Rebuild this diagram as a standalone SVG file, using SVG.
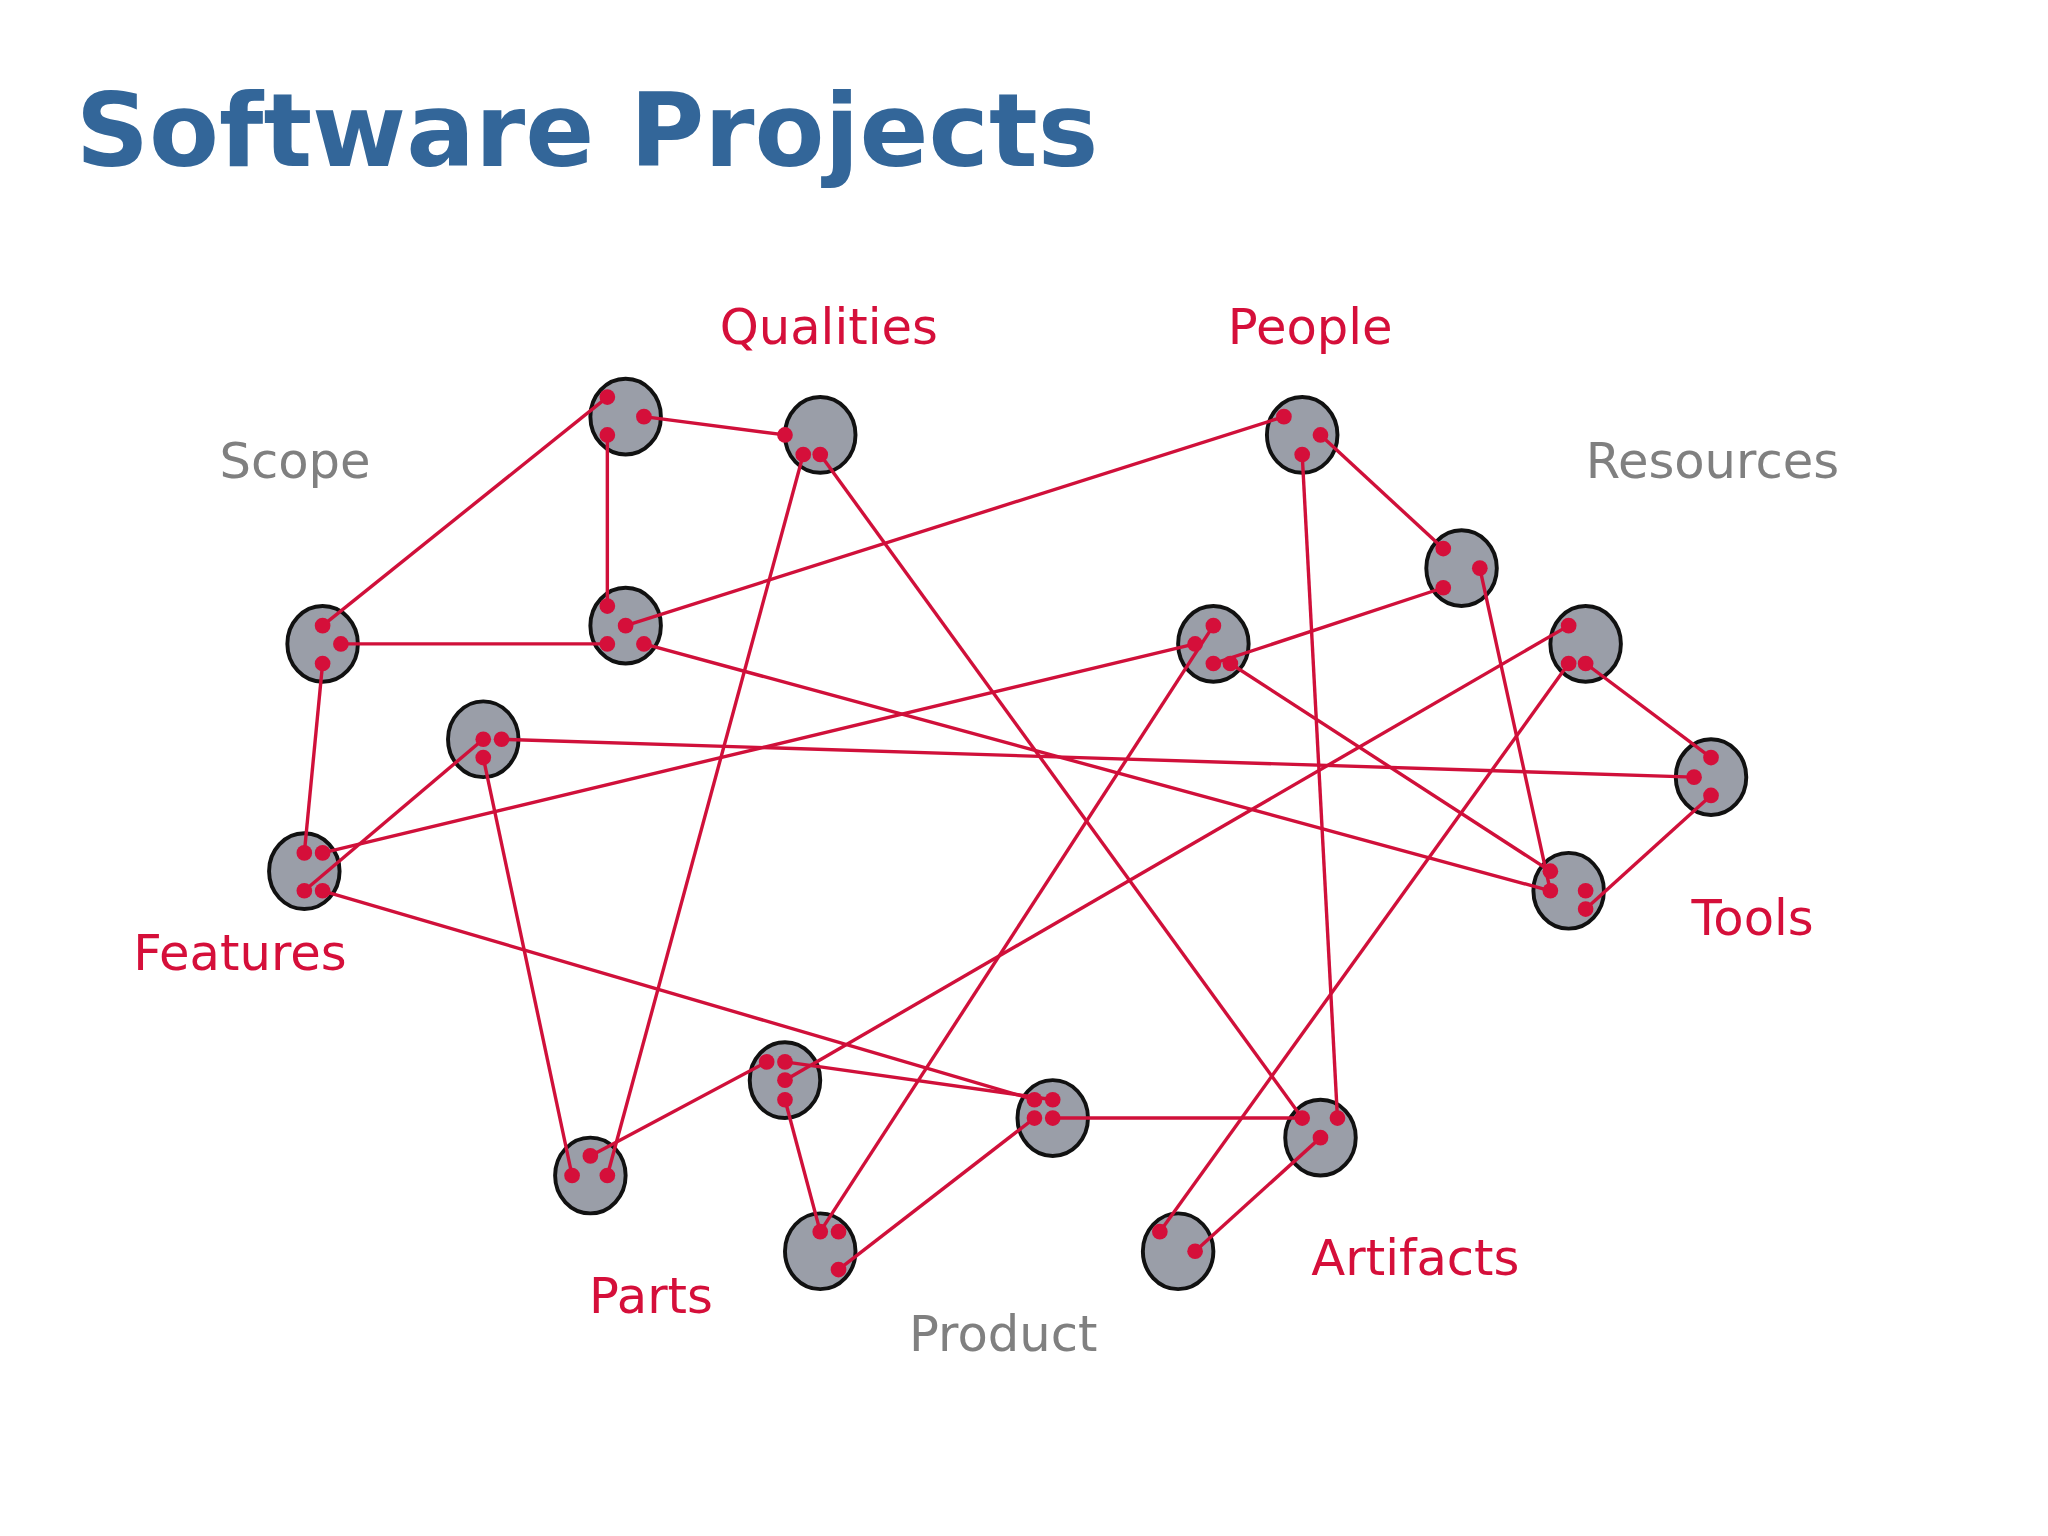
<svg xmlns="http://www.w3.org/2000/svg" width="2048" height="1536" viewBox="0 0 2048 1536">
<style>
.n{fill:#9a9ea8;stroke:#111;stroke-width:3}
.d{fill:#d50f3a}
.e{stroke:#d0103a;stroke-width:2.6;fill:none}
.r{fill:#d50f3a;font-family:"DejaVu Sans",Verdana,sans-serif;font-size:38px}
.g{fill:#808080;font-family:"DejaVu Sans",Verdana,sans-serif;font-size:38px}
.t{fill:#336699;font-family:"DejaVu Sans",Verdana,sans-serif;font-size:78px;font-weight:bold}
</style>
<rect width="2048" height="1536" fill="#fff"/>
<g transform="scale(1.30612)">
<text class="t" x="58" y="127">Software Projects</text>
<g id="labels">
<text class="r" x="551" y="263">Qualities</text>
<text class="r" x="940" y="263">People</text>
<text class="g" x="168" y="366">Scope</text>
<text class="g" x="1214" y="366">Resources</text>
<text class="r" x="102" y="743">Features</text>
<text class="r" x="1295" y="716">Tools</text>
<text class="r" x="451" y="1005">Parts</text>
<text class="g" x="696" y="1034">Product</text>
<text class="r" x="1004" y="976">Artifacts</text>
</g>
<g id="nodeA"><ellipse class="n" cx="479" cy="319" rx="27" ry="29"/></g>
<g id="nodeB"><ellipse class="n" cx="628" cy="333" rx="27" ry="29"/></g>
<g id="nodeC"><ellipse class="n" cx="997" cy="333" rx="27" ry="29"/></g>
<g id="nodeD"><ellipse class="n" cx="1119" cy="435" rx="27" ry="29"/></g>
<g id="nodeE"><ellipse class="n" cx="247" cy="493" rx="27" ry="29"/></g>
<g id="nodeF"><ellipse class="n" cx="479" cy="479" rx="27" ry="29"/></g>
<g id="nodeG"><ellipse class="n" cx="929" cy="493" rx="27" ry="29"/></g>
<g id="nodeH"><ellipse class="n" cx="1214" cy="493" rx="27" ry="29"/></g>
<g id="nodeI"><ellipse class="n" cx="370" cy="566" rx="27" ry="29"/></g>
<g id="nodeJ"><ellipse class="n" cx="1310" cy="595" rx="27" ry="29"/></g>
<g id="nodeK"><ellipse class="n" cx="233" cy="667" rx="27" ry="29"/></g>
<g id="nodeL"><ellipse class="n" cx="1201" cy="682" rx="27" ry="29"/></g>
<g id="nodeM"><ellipse class="n" cx="601" cy="827" rx="27" ry="29"/></g>
<g id="nodeN"><ellipse class="n" cx="806" cy="856" rx="27" ry="29"/></g>
<g id="nodeO"><ellipse class="n" cx="1011" cy="871" rx="27" ry="29"/></g>
<g id="nodeP"><ellipse class="n" cx="452" cy="900" rx="27" ry="29"/></g>
<g id="nodeQ"><ellipse class="n" cx="628" cy="958" rx="27" ry="29"/></g>
<g id="nodeR"><ellipse class="n" cx="902" cy="958" rx="27" ry="29"/></g>
<g id="connectors" class="e">
<line x1="465" y1="304" x2="247" y2="479"/>
<line x1="493" y1="319" x2="601" y2="333"/>
<line x1="465" y1="333" x2="465" y2="464"/>
<line x1="615" y1="348" x2="465" y2="900"/>
<line x1="628" y1="348" x2="997" y2="856"/>
<line x1="983" y1="319" x2="479" y2="479"/>
<line x1="1011" y1="333" x2="1105" y2="420"/>
<line x1="997" y1="348" x2="1024" y2="856"/>
<line x1="1105" y1="450" x2="929" y2="508"/>
<line x1="1133" y1="435" x2="1187" y2="682"/>
<line x1="261" y1="493" x2="465" y2="493"/>
<line x1="247" y1="508" x2="233" y2="653"/>
<line x1="493" y1="493" x2="1187" y2="682"/>
<line x1="915" y1="493" x2="247" y2="653"/>
<line x1="929" y1="479" x2="628" y2="943"/>
<line x1="942" y1="508" x2="1187" y2="667"/>
<line x1="1201" y1="479" x2="601" y2="827"/>
<line x1="1214" y1="508" x2="1310" y2="580"/>
<line x1="1201" y1="508" x2="888" y2="943"/>
<line x1="384" y1="566" x2="1297" y2="595"/>
<line x1="370" y1="566" x2="233" y2="682"/>
<line x1="370" y1="580" x2="438" y2="900"/>
<line x1="1310" y1="609" x2="1214" y2="696"/>
<line x1="247" y1="682" x2="792" y2="842"/>
<line x1="587" y1="813" x2="452" y2="885"/>
<line x1="601" y1="813" x2="806" y2="842"/>
<line x1="601" y1="842" x2="628" y2="943"/>
<line x1="806" y1="856" x2="997" y2="856"/>
<line x1="792" y1="856" x2="642" y2="972"/>
<line x1="1011" y1="871" x2="915" y2="958"/>
</g>
<g id="ports" class="d">
<circle cx="465" cy="304" r="6"/><circle cx="493" cy="319" r="6"/><circle cx="465" cy="333" r="6"/>
<circle cx="601" cy="333" r="6"/><circle cx="615" cy="348" r="6"/><circle cx="628" cy="348" r="6"/>
<circle cx="983" cy="319" r="6"/><circle cx="1011" cy="333" r="6"/><circle cx="997" cy="348" r="6"/>
<circle cx="1105" cy="420" r="6"/><circle cx="1133" cy="435" r="6"/><circle cx="1105" cy="450" r="6"/>
<circle cx="247" cy="479" r="6"/><circle cx="261" cy="493" r="6"/><circle cx="247" cy="508" r="6"/>
<circle cx="465" cy="464" r="6"/><circle cx="479" cy="479" r="6"/><circle cx="465" cy="493" r="6"/><circle cx="493" cy="493" r="6"/>
<circle cx="929" cy="479" r="6"/><circle cx="915" cy="493" r="6"/><circle cx="929" cy="508" r="6"/><circle cx="942" cy="508" r="6"/>
<circle cx="1201" cy="479" r="6"/><circle cx="1201" cy="508" r="6"/><circle cx="1214" cy="508" r="6"/>
<circle cx="370" cy="566" r="6"/><circle cx="384" cy="566" r="6"/><circle cx="370" cy="580" r="6"/>
<circle cx="1310" cy="580" r="6"/><circle cx="1297" cy="595" r="6"/><circle cx="1310" cy="609" r="6"/>
<circle cx="233" cy="653" r="6"/><circle cx="247" cy="653" r="6"/><circle cx="233" cy="682" r="6"/><circle cx="247" cy="682" r="6"/>
<circle cx="1187" cy="667" r="6"/><circle cx="1187" cy="682" r="6"/><circle cx="1214" cy="682" r="6"/><circle cx="1214" cy="696" r="6"/>
<circle cx="587" cy="813" r="6"/><circle cx="601" cy="813" r="6"/><circle cx="601" cy="827" r="6"/><circle cx="601" cy="842" r="6"/>
<circle cx="792" cy="842" r="6"/><circle cx="806" cy="842" r="6"/><circle cx="792" cy="856" r="6"/><circle cx="806" cy="856" r="6"/>
<circle cx="997" cy="856" r="6"/><circle cx="1024" cy="856" r="6"/><circle cx="1011" cy="871" r="6"/>
<circle cx="452" cy="885" r="6"/><circle cx="438" cy="900" r="6"/><circle cx="465" cy="900" r="6"/>
<circle cx="628" cy="943" r="6"/><circle cx="642" cy="943" r="6"/><circle cx="642" cy="972" r="6"/>
<circle cx="888" cy="943" r="6"/><circle cx="915" cy="958" r="6"/>
</g>
</g>
</svg>
